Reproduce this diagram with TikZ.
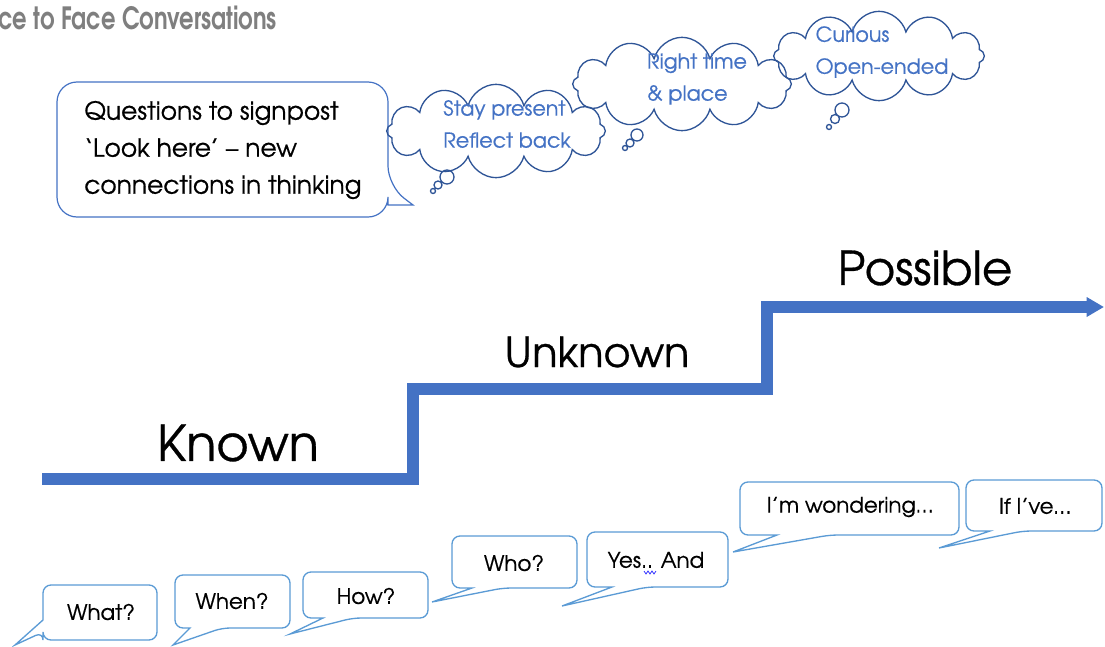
\documentclass[tikz,border=0pt]{standalone}
\usepackage{fontspec}
\usetikzlibrary{shapes.symbols,arrows.meta}
\newfontfamily\gothic[Extension=.otf,UprightFont=*-regular,BoldFont=*-bold,FakeBold=0.6]{texgyreadventor}
\newfontfamily\titlefont[Extension=.otf,UprightFont=*-bold,FakeStretch=0.74]{texgyreadventor}
\definecolor{arrowblue}{HTML}{4472C4}
\definecolor{cloudblue}{HTML}{2F5597}
\definecolor{callblue}{HTML}{5B9BD5}
\definecolor{titlegray}{HTML}{7F7F7F}
\definecolor{squiggle}{HTML}{3333FF}
\tikzset{
  bubble/.style={draw=arrowblue, line width=0.9pt, fill=white},
  callout/.style={draw=callblue, line width=1pt, fill=white},
  cloudsty/.style={draw=cloudblue, line width=1pt, cloud, cloud puffs=12, cloud ignores aspect, inner sep=0pt},
  cloudtext/.style={text=arrowblue, align=left, font=\gothic\fontsize{15.5}{24}\selectfont},
  ctext/.style={text=black, font=\gothic\fontsize{16}{18}\selectfont},
  biglabel/.style={text=black, font=\gothic\fontsize{#1}{#1}\selectfont},
}
\newcommand\bcallout[7]{%
  \draw[callout] ({(#1+#3)/2},#2) [rounded corners=6pt] -- (#3,#2) -- (#3,#4) -- (#6,#4) [sharp corners] -- #7 -- (#5,#4) [rounded corners=6pt] -- (#1,#4) -- (#1,#2) -- cycle;}
\begin{document}
\begin{tikzpicture}[x=0.75pt,y=-0.75pt]
\useasboundingbox (0,0) rectangle (1105,646);

% title
\node[anchor=west, inner sep=0pt, text=titlegray, font=\titlefont\fontsize{23}{26}\selectfont] (title) at (-2,18) {ce to Face Conversations};

% speech bubble
\draw[bubble] (57,150) [rounded corners=15pt] -- (57,82) -- (388,82) -- (388,186) [sharp corners] -- (413,205) -- (388,205) [rounded corners=15pt] -- (388,217) -- (57,217) -- cycle;
\node[anchor=west, align=left, inner sep=0pt, font=\gothic\fontsize{18.7}{27.75}\selectfont] (signpost) at (84,150) {Questions to signpost\\‘Look here’ – new\\connections in thinking};

% clouds
\node[cloudsty, minimum width=164pt, minimum height=70pt] (cloudA) at (496,131) {};
\node[cloudsty, minimum width=164pt, minimum height=70pt] (cloudB) at (682,84) {};
\node[cloudsty, minimum width=158pt, minimum height=67pt] (cloudC) at (879,56) {};
\node[cloudtext] (tA) at (507,124) {Stay present\\Reflect back};
\node[cloudtext] (tB) at (697,79) {Right time\\\& place};
\node[cloudtext] (tC) at (882,52) {Curious\\Open-ended};
\draw[draw=cloudblue, line width=1pt] (447,177) circle (7) (438,185) circle (4) (433,191) circle (2.5);
\draw[draw=cloudblue, line width=1pt] (637,135) circle (6) (630,143) circle (4) (625,148) circle (2.5);
\draw[draw=cloudblue, line width=1pt] (842,110) circle (7) (835,119) circle (4.5) (829,127) circle (2.5);

% staircase arrow
\coordinate (s0) at (42,479);
\coordinate (s1) at (413,479);
\coordinate (s2) at (413,389);
\coordinate (s3) at (767,389);
\coordinate (s4) at (767,307);
\coordinate (s5) at (1104,307);
\draw[arrowblue, line width=8.5pt, line join=miter, -{Triangle[width=14pt,length=13pt]}] (s0) -- (s1) -- (s2) -- (s3) -- (s4) -- (s5);

\node[biglabel=37] (known) at (238,443) {Known};
\node[biglabel=31] (unknown) at (597,352) {Unknown};
\node[biglabel=35] (possible) at (925,268) {Possible};

% bottom callouts
\draw[callout] (100,585) [rounded corners=6pt] -- (157,585) -- (157,640) -- (43,640) -- (43,632) [sharp corners] -- (15,645) -- (43,620) [rounded corners=6pt] -- (43,585) -- cycle;
\node[ctext] (what) at (101,612) {What?};
\bcallout{175}{575}{290}{628}{190}{222}{(173,645)}
\node[ctext] (when) at (232,601) {When?};
\bcallout{303}{572}{428}{618}{323}{353}{(290,634)}
\node[ctext] (how) at (366,596) {How?};
\bcallout{452}{536}{577}{588}{472}{503}{(432,602)}
\node[ctext] (who) at (514,563) {Who?};
\bcallout{587}{532}{728}{587}{612}{647}{(562,606)}
\node[ctext] (yes) at (656,560) {Yes.. And};
\draw[squiggle, line width=0.6pt] (644,571) -- (646,574) -- (648,571) -- (650,574) -- (652,571) -- (654,574) -- (656,571);
\bcallout{740}{482}{959}{535}{777}{830}{(733,552)}
\node[ctext] (wonder) at (850,507) {I’m wondering…};
\bcallout{966}{480}{1102}{531}{990}{1023}{(939,548)}
\node[ctext] (ifive) at (1035,506) {If I’ve…};
\end{tikzpicture}
\end{document}
